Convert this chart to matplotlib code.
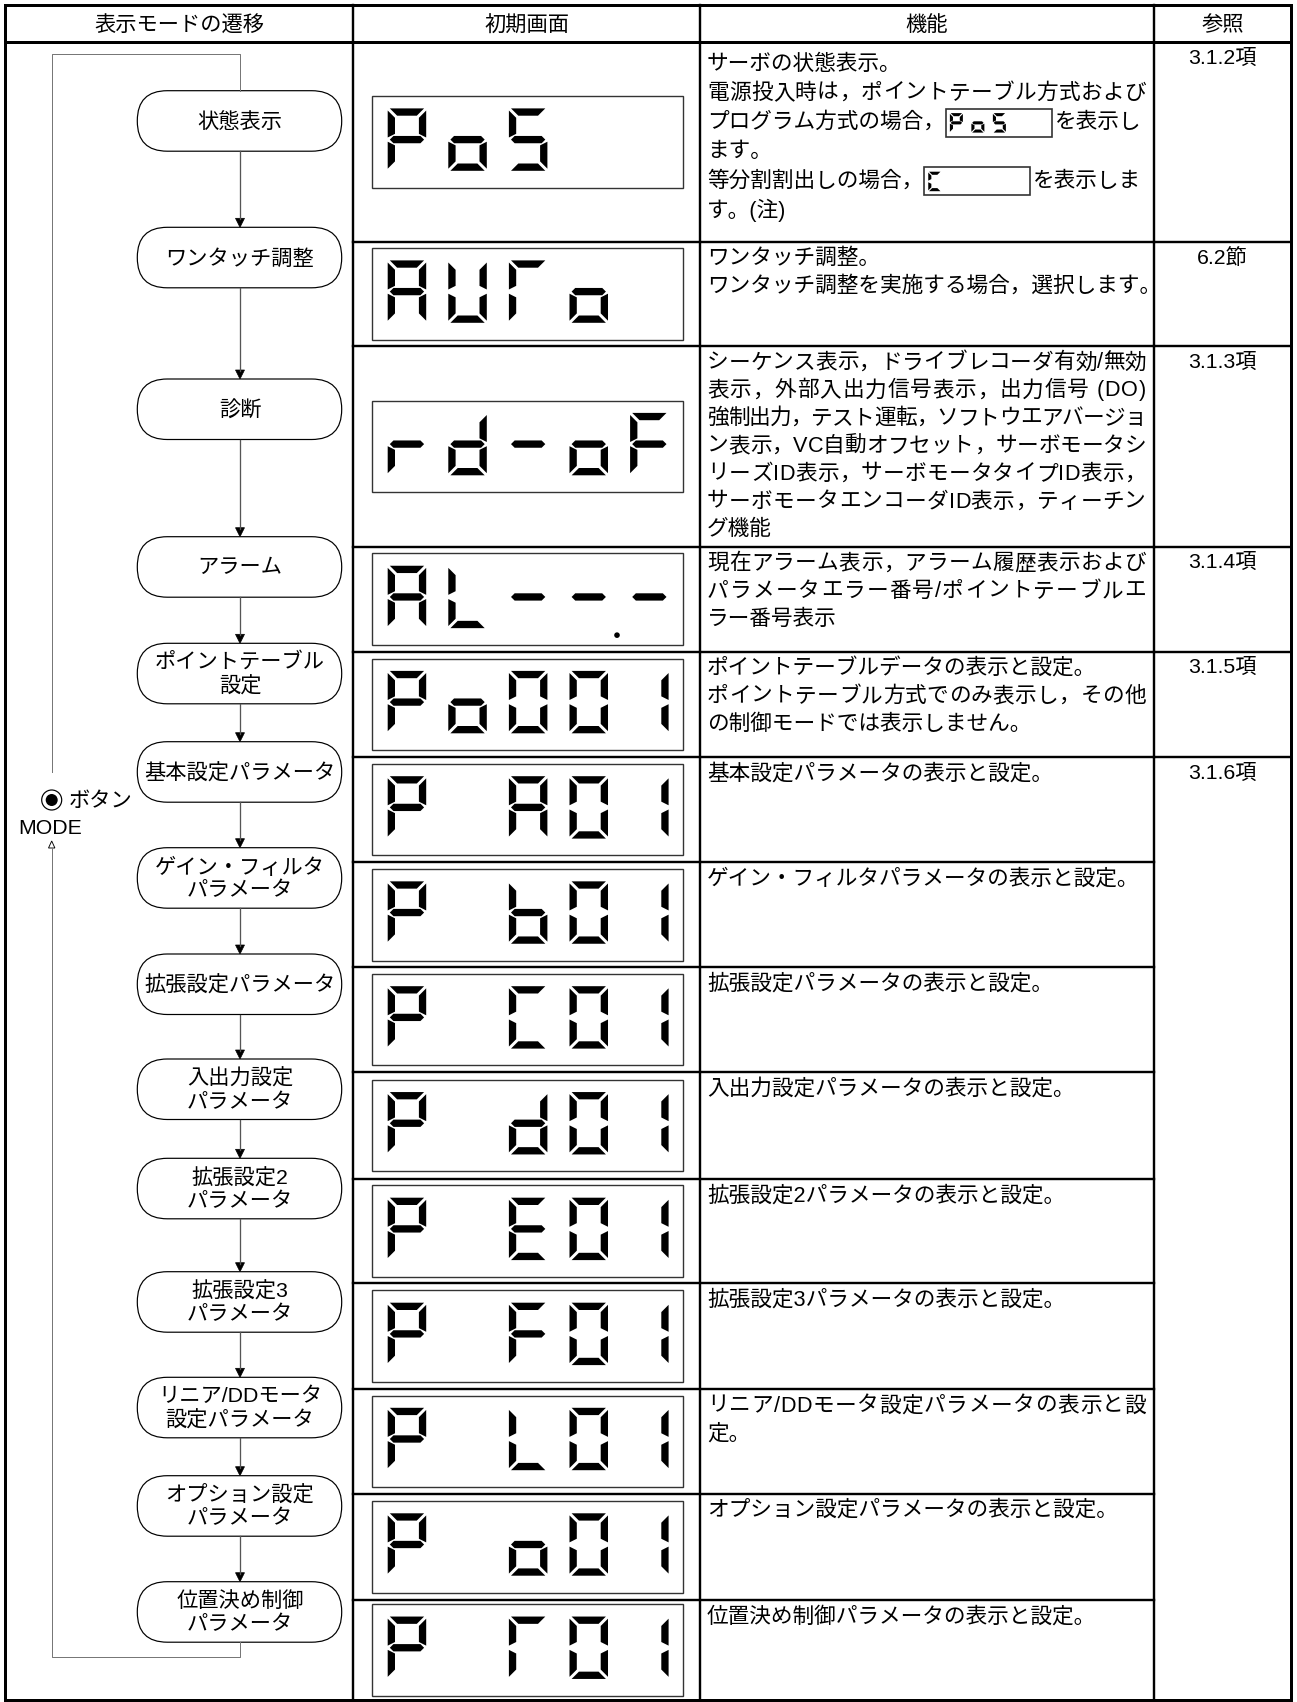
import matplotlib
matplotlib.use('Agg')
import matplotlib.pyplot as plt
from matplotlib.patches import Polygon, FancyBboxPatch, Rectangle, Circle

FAM = ['Liberation Sans', 'Noto Sans CJK JP', 'DejaVu Sans']
plt.rcParams['font.family'] = FAM

# ---------------- data ----------------
headers = ["表示モードの遷移", "初期画面", "機能", "参照"]
modes = ["状態表示", "ワンタッチ調整", "診断", "アラーム", "ポイントテーブル\n設定",
         "基本設定パラメータ", "ゲイン・フィルタ\nパラメータ", "拡張設定パラメータ",
         "入出力設定\nパラメータ", "拡張設定2\nパラメータ", "拡張設定3\nパラメータ",
         "リニア/DDモータ\n設定パラメータ", "オプション設定\nパラメータ", "位置決め制御\nパラメータ"]
screens = ["PoS", "AUTo", "rd-oF", "AL--.-", "Po001", "P A01", "P b01", "P C01",
           "P d01", "P E01", "P F01", "P L01", "P o01", "P T01"]
functions = [
    ["サーボの状態表示。",
     "電源投入時は，ポイントテーブル方式および",
     "プログラム方式の場合，{PoS}を表示し",
     "ます。",
     "等分割割出しの場合，{C}を表示しま",
     "す。(注)"],
    ["ワンタッチ調整。",
     "ワンタッチ調整を実施する場合，選択します。"],
    ["シーケンス表示，ドライブレコーダ有効/無効",
     "表示，外部入出力信号表示，出力信号 (DO)",
     "強制出力，テスト運転，ソフトウエアバージョ",
     "ン表示，VC自動オフセット，サーボモータシ",
     "リーズID表示，サーボモータタイプID表示，",
     "サーボモータエンコーダID表示，ティーチン",
     "グ機能"],
    ["現在アラーム表示，アラーム履歴表示および",
     "パラメータエラー番号/ポイントテーブルエ",
     "ラー番号表示"],
    ["ポイントテーブルデータの表示と設定。",
     "ポイントテーブル方式でのみ表示し，その他",
     "の制御モードでは表示しません。"],
    ["基本設定パラメータの表示と設定。"],
    ["ゲイン・フィルタパラメータの表示と設定。"],
    ["拡張設定パラメータの表示と設定。"],
    ["入出力設定パラメータの表示と設定。"],
    ["拡張設定2パラメータの表示と設定。"],
    ["拡張設定3パラメータの表示と設定。"],
    ["リニア/DDモータ設定パラメータの表示と設", "定。"],
    ["オプション設定パラメータの表示と設定。"],
    ["位置決め制御パラメータの表示と設定。"],
]
refs = ["3.1.2項", "6.2節", "3.1.3項", "3.1.4項", "3.1.5項", "3.1.6項"]
ref_rows = [0, 1, 2, 3, 4, 5]          # row index where each reference cell starts
button_label = "ボタン"
mode_label = "MODE"

SEGS = {
    'P': 'abefg', 'o': 'cdeg', 'S': 'acdfg', 'A': 'abcefg', 'U': 'bcdef',
    'T': 'aef', 'r': 'eg', 'd': 'bcdeg', '-': 'g', 'F': 'aefg', 'L': 'def',
    '0': 'abcdef', '1': 'bc', 'b': 'cdefg', 'C': 'adef', 'E': 'adefg', ' ': ''
}

# ---------------- layout ----------------
W, H = 1297, 1702
fig = plt.figure(figsize=(W / 100, H / 100), dpi=100)
ax = fig.add_axes([0, 0, 1, 1])
ax.set_xlim(0, W)
ax.set_ylim(H, 0)
ax.axis('off')
fig.canvas.draw()
R = fig.canvas.get_renderer()

PX = 0.72
X0, X1, X2, X3, X4 = 5, 353.3, 700, 1154, 1291
Y_TOP, Y_HEAD, Y_BOT = 5, 42, 1700
row_edges = [42, 241.7, 346, 546.7, 651.7, 757, 862.3, 967.3, 1072, 1179,
             1283.3, 1389, 1493.5, 1600, 1700]
box_tops = [90.7, 227.3, 379, 536.7, 643.3, 741.7, 847.7, 954, 1059, 1158.3,
            1271.7, 1377.3, 1475.7, 1581.7]
BOX_H = 60.5
FX0, FX1 = 137.3, 341.7
FCX = 240
LOOP_X = 51.7

FS = 15.3


def tw(s, fs):
    t = ax.text(0, 0, s, fontsize=fs)
    w = t.get_window_extent(renderer=R).width
    t.remove()
    return w


def adv(s, fs):
    if not s:
        return 0.0
    return tw(s + "|", fs) - tw("|", fs)


def seg_polys(x0, y0, w, h, t, g):
    m = y0 + h / 2
    return {
        'a': [(x0 + g, y0), (x0 + w - g, y0), (x0 + w - t - g, y0 + t), (x0 + t + g, y0 + t)],
        'd': [(x0 + t + g, y0 + h - t), (x0 + w - t - g, y0 + h - t), (x0 + w - g, y0 + h), (x0 + g, y0 + h)],
        'f': [(x0, y0 + g), (x0 + t, y0 + t + g), (x0 + t, m - t / 2 - g), (x0, m - g)],
        'e': [(x0, m + g), (x0 + t, m + t / 2 + g), (x0 + t, y0 + h - t - g), (x0, y0 + h - g)],
        'b': [(x0 + w, y0 + g), (x0 + w - t, y0 + t + g), (x0 + w - t, m - t / 2 - g), (x0 + w, m - g)],
        'c': [(x0 + w, m + g), (x0 + w - t, m + t / 2 + g), (x0 + w - t, y0 + h - t - g), (x0 + w, y0 + h - g)],
        'g': [(x0 + g + t / 2, m - t / 2), (x0 + w - g - t / 2, m - t / 2), (x0 + w - g, m),
              (x0 + w - g - t / 2, m + t / 2), (x0 + g + t / 2, m + t / 2), (x0 + g, m)],
    }


def draw_display(bx, by, bw, bh, s, dx, dy, dw, dh, pitch, t, g, lw=1.0):
    ax.add_patch(Rectangle((bx, by), bw, bh, facecolor='white', edgecolor='#333333', lw=lw))
    slots = []
    for ch in s:
        if ch == '.':
            slots[-1][1] = True
        else:
            slots.append([ch, False])
    for i, (ch, dp) in enumerate(slots):
        x0 = bx + dx + i * pitch
        y0 = by + dy
        polys = seg_polys(x0, y0, dw, dh, t, g)
        for sname in SEGS[ch]:
            ax.add_patch(Polygon(polys[sname], closed=True, facecolor='black', edgecolor='none'))
        if dp:
            ax.add_patch(Circle((x0 + dw + 9, y0 + dh + 7), 2.8, facecolor='black', edgecolor='none'))


# ---------------- table grid ----------------
ax.add_patch(Rectangle((X0, Y_TOP), X4 - X0, Y_BOT - Y_TOP, fill=False, edgecolor='black', lw=3 * PX))
ax.plot([X0, X4], [Y_HEAD, Y_HEAD], color='black', lw=3 * PX)
for x in (X1, X2, X3):
    ax.plot([x, x], [Y_TOP, Y_BOT], color='black', lw=2.4 * PX)
ref_starts = [row_edges[r] for r in ref_rows]
for y in row_edges[1:-1]:
    ax.plot([X1, X3], [y, y], color='black', lw=2.4 * PX)
    if y in ref_starts:
        ax.plot([X3, X4], [y, y], color='black', lw=2.4 * PX)

hx = [(X0 + X1) / 2, (X1 + X2) / 2, (X2 + X3) / 2, (X3 + X4) / 2]
for h, x in zip(headers, hx):
    ax.text(x, (Y_TOP + Y_HEAD) / 2 + 2, h, fontsize=FS, ha='center', va='center')

# ---------------- flow chart ----------------
for i, (m, top) in enumerate(zip(modes, box_tops)):
    ax.add_patch(FancyBboxPatch((FX0, top), FX1 - FX0, BOX_H,
                                boxstyle="round,pad=0,rounding_size=30",
                                facecolor='white', edgecolor='black', lw=1.2 * PX))
    ax.text(FCX, top + BOX_H / 2 + 1, m, fontsize=FS, ha='center', va='center',
            linespacing=1.26)
    if i + 1 < len(box_tops):
        y_start = top + BOX_H
        y_end = box_tops[i + 1]
        ax.plot([FCX, FCX], [y_start, y_end - 8], color='#555555', lw=1.3 * PX)
        ax.add_patch(Polygon([(FCX - 4.5, y_end - 9), (FCX + 4.5, y_end - 9), (FCX, y_end)],
                             closed=True, facecolor='black', edgecolor='black', lw=0.5))

# loop
y_loop_bot = 1657.3
y_loop_top = 54.3
ax.plot([FCX, FCX, LOOP_X, LOOP_X], [box_tops[-1] + BOX_H, y_loop_bot, y_loop_bot, 848],
        color='#777777', lw=1.0 * PX)
ax.add_patch(Polygon([(LOOP_X - 3.2, 848), (LOOP_X + 3.2, 848), (LOOP_X, 841)], closed=True,
                     facecolor='white', edgecolor='black', lw=0.9 * PX))
ax.plot([LOOP_X, LOOP_X, FCX, FCX], [771.7, y_loop_top, y_loop_top, box_tops[0]],
        color='#777777', lw=1.0 * PX)
ax.add_patch(Circle((LOOP_X, 800), 10, facecolor='white', edgecolor='black', lw=1.2 * PX))
ax.add_patch(Circle((LOOP_X, 800), 6, facecolor='black', edgecolor='none'))
ax.text(69, 801, button_label, fontsize=FS, ha='left', va='center')
ax.text(50, 828, mode_label, fontsize=FS, ha='center', va='center')

# ---------------- initial screens ----------------
DBX0, DBW, DBH = 372.3, 311, 91.5
for i, s in enumerate(screens):
    cy = (row_edges[i] + row_edges[i + 1]) / 2
    by = cy - DBH / 2
    draw_display(DBX0, by, DBW, DBH, s, dx=15.4, dy=12.3, dw=38.5, dh=62.4,
                 pitch=60.6, t=7.3, g=2.1)

# ---------------- function texts ----------------
TX = 707
TX_END = 1146
FS3 = 15.6


def draw_justified(line, y):
    n = len(line)
    total = adv(line, FS3)
    extra = (TX_END - TX - total) / (n - 1)
    for k, ch in enumerate(line):
        if ch == ' ':
            continue
        x = TX + adv(line[:k], FS3) + k * extra
        ax.text(x, y, ch, fontsize=FS3, ha='left', va='center')


for i, lines in enumerate(functions):
    top = row_edges[i]
    step = 29.3 if i == 0 else 27.8
    first = top + 22 if i == 0 else top + 17
    for k, line in enumerate(lines):
        y = first + k * step
        if '{' in line:
            pre, rest = line.split('{')
            code, post = rest.split('}')
            ax.text(TX, y, pre, fontsize=FS3, ha='left', va='center')
            bx = TX + adv(pre, FS3) + 1
            bw = 106
            draw_display(bx, y - 14, bw, 28, code, dx=4, dy=4.5, dw=13, dh=19.5,
                         pitch=21.5, t=3.1, g=0.8, lw=1.2)
            ax.text(bx + bw + 3, y, post, fontsize=FS3, ha='left', va='center')
        elif k < len(lines) - 1 and not line.endswith('。'):
            draw_justified(line, y)
        else:
            ax.text(TX, y, line, fontsize=FS3, ha='left', va='center')

# ---------------- references ----------------
for r, ri in zip(refs, ref_rows):
    ax.text((X3 + X4) / 2, row_edges[ri] + 16, r, fontsize=FS, ha='center', va='center')

fig.savefig('out.png', dpi=100)
